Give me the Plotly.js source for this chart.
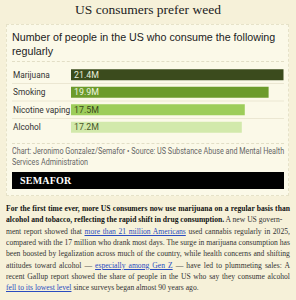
<!DOCTYPE html>
<html><head><meta charset="utf-8">
<script src="https://cdn.plot.ly/plotly-3.0.1.min.js"></script>
<style>
html,body{margin:0;padding:0;background:#f6f1d9;width:296px;height:300px;overflow:hidden;}
#title{position:absolute;left:0;top:2px;width:296px;text-align:center;font-family:"Liberation Serif",serif;font-size:13.5px;color:#222;}
#card{position:absolute;left:6px;top:24px;width:283px;height:172px;background:#fbf9e8;border:1px dashed #e6e2c8;box-sizing:border-box;}
#sub{position:absolute;left:12px;top:30px;width:276px;font-family:"Liberation Sans",Arial,sans-serif;font-size:10.7px;line-height:14px;color:#222;}
.dash{position:absolute;left:12px;width:272px;border-top:1px dashed #e2dec6;height:0;}
#chart{position:absolute;left:12px;top:64px;width:272px;height:74px;}
#src{position:absolute;left:12px;top:146px;width:320px;font-family:Roboto,"Liberation Sans",sans-serif;font-size:8.4px;line-height:11px;color:#666;transform:scaleX(0.86);transform-origin:0 0;}
#logo{position:absolute;left:12px;top:172px;width:272px;height:17px;background:#000;color:#fff;font-family:"Liberation Serif",serif;font-weight:bold;font-size:10px;line-height:17px;padding-left:8px;box-sizing:border-box;letter-spacing:0.2px;}
#body{position:absolute;left:6px;top:203px;width:336px;font-family:"Liberation Serif",serif;font-size:9px;line-height:11.35px;color:#333;text-align:justify;transform:scaleX(0.845);transform-origin:0 0;}
#body b{color:#111;}
#body a{color:#2a4cc0;text-decoration:underline;}
#body a.nw{white-space:nowrap;}
</style></head>
<body>
<div id="title">US consumers prefer weed</div>
<div id="card"></div>
<div id="sub">Number of people in the US who consume the following regularly</div>
<div class="dash" style="top:61px"></div>
<div id="chart"></div>
<div class="dash" style="top:143px"></div>
<div id="src">Chart: Jeronimo Gonzalez/Semafor • Source: US Substance Abuse and Mental Health<br>Services Administration</div>
<div id="logo">SEMAFOR</div>
<div id="body"><b>For the first time ever, more US consumers now use marijuana on a regular basis than alcohol and tobacco, reflecting the rapid shift in drug consumption.</b> A new US govern-<br>ment report showed that <a>more than 21 million Americans</a> used cannabis regularly in 2025, compared with the 17 million who drank most days. The surge in marijuana consumption has been boosted by legalization across much of the country, while health concerns and shifting attitudes toward alcohol — <a>especially among Gen Z</a> — have led to plummeting sales: A recent Gallup report showed the share of people in the US who say they consume alcohol <a class="nw">fell to its lowest level</a> since surveys began almost 90 years ago.</div>
<script>
var categories = ["Marijuana","Smoking","Nicotine vaping","Alcohol"];
var values = [21.4,19.9,17.5,17.2];
var valueLabels = ["21.4M","19.9M","17.5M","17.2M"];
var barColors = ["#3b4b1d","#6c9b2b","#9dcd5a","#d2e9ab"];
var labelColors = ["#e8eddc","#eef5e0","#3a4a1c","#4a5a2c"];

var shapes = [];
for (var i = 0; i < categories.length - 1; i++) {
  shapes.push({type:"line", xref:"paper", yref:"y", x0:-0.277, x1:1, y0:i+0.5, y1:i+0.5,
    line:{color:"#ebe7d2", width:1}});
}
var annotations = [];
categories.forEach(function(c, i){
  annotations.push({xref:"paper", yref:"y", x:-0.272, y:c, text:c, showarrow:false,
    xanchor:"left", yanchor:"middle", xshift:-2,
    font:{family:"Roboto, Liberation Sans, sans-serif", size:8.3, color:"#333"}});
  annotations.push({xref:"x", yref:"y", x:0.15, y:c, text:valueLabels[i], showarrow:false,
    xanchor:"left", yanchor:"middle",
    font:{family:"Roboto, Liberation Sans, sans-serif", size:8.8, color:labelColors[i]}});
});
Plotly.newPlot("chart", [{
  type:"bar", orientation:"h", y:categories, x:values,
  marker:{color:barColors, line:{width:0}},
  width:0.64, hoverinfo:"skip"
}], {
  width:272, height:74,
  margin:{l:59, r:0, t:2, b:2},
  paper_bgcolor:"rgba(0,0,0,0)", plot_bgcolor:"rgba(0,0,0,0)",
  xaxis:{range:[0,21.45], visible:false, fixedrange:true},
  yaxis:{autorange:"reversed", showticklabels:false, showgrid:false, zeroline:false, showline:false, ticks:"", automargin:false},
  shapes:shapes, annotations:annotations, showlegend:false
}, {staticPlot:true, displayModeBar:false});
</script>
</body></html>
